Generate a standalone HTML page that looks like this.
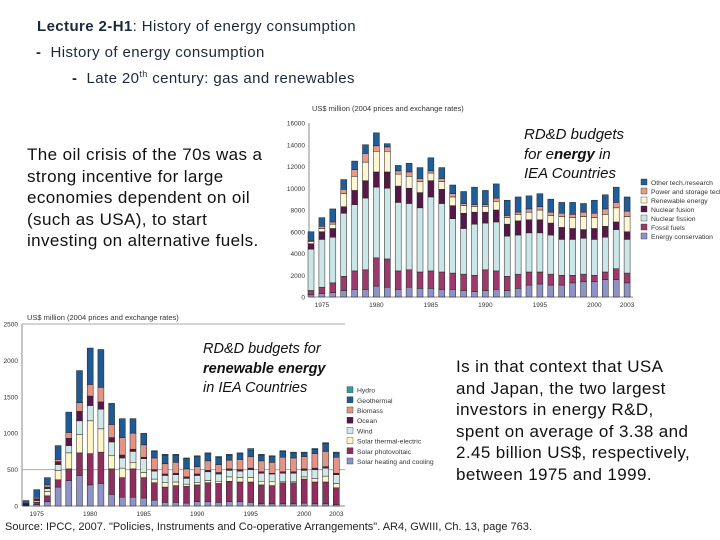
<!DOCTYPE html>
<html><head><meta charset="utf-8">
<style>
body{margin:0;width:720px;height:540px;background:#fff;position:relative;overflow:hidden;font-family:"Liberation Sans",Arial,sans-serif;color:#000}
.t{position:absolute;white-space:nowrap}
.hd{color:#1b2a3a;font-size:15px;letter-spacing:0.4px}
.p{font-size:17px;line-height:21.5px;color:#111;letter-spacing:0.4px}
.it{font-style:italic;font-size:15px;line-height:19.5px;color:#111}
svg{position:absolute;left:0;top:0}
svg text{font-family:"Liberation Sans",Arial,sans-serif}
</style></head><body>
<div class="t hd" style="left:37px;top:18px"><b>Lecture 2-H1</b>: History of energy consumption</div>
<div class="t hd" style="left:36px;top:44px"><b>-</b>&nbsp; History of energy consumption</div>
<div class="t hd" style="left:72px;top:69px"><b>-</b>&nbsp; Late 20<sup style="font-size:9px">th</sup> century: gas and renewables</div>

<svg id="chart" width="720" height="540"></svg>

<div class="t p" style="left:27px;top:144px">The oil crisis of the 70s was a<br>strong incentive for large<br>economies dependent on oil<br>(such as USA), to start<br>investing on alternative fuels.</div>
<div class="t it" style="left:524px;top:125px">RD&amp;D budgets<br>for e<b>nergy</b> in<br>IEA Countries</div>
<div class="t it" style="left:203px;top:340px;font-size:14.5px">RD&amp;D budgets for<br><b>renewable energy</b><br>in IEA Countries</div>
<div class="t p" style="left:456px;top:356px">Is in that context that USA<br>and Japan, the two largest<br>investors in energy R&amp;D,<br>spent on average of 3.38 and<br>2.45 billion US$, respectively,<br>between 1975 and 1999.</div>
<div class="t" style="left:5px;top:521px;font-size:11px;color:#222">Source: IPCC, 2007. "Policies, Instruments and Co-operative Arrangements". AR4, GWIII, Ch. 13, page 763.</div>

<script>
const years=[1974,1975,1976,1977,1978,1979,1980,1981,1982,1983,1984,1985,1986,1987,1988,1989,1990,1991,1992,1993,1994,1995,1996,1997,1998,1999,2000,2001,2002,2003];
// Top chart (US$ million / 1000)
const conservation=[.2,.3,.4,.6,.7,.7,1.0,.9,.7,.9,.8,.8,.7,.7,.6,.5,.6,.7,.6,.8,1.1,1.2,1.1,1.1,1.3,1.4,1.4,1.6,1.6,1.3];
const fossil=[.4,.6,.9,1.3,1.7,1.8,2.6,2.6,1.7,1.6,1.5,1.6,1.6,1.5,1.5,1.5,1.9,1.7,1.3,1.3,1.2,1.1,1.0,.9,.7,.7,.6,.7,1.0,.9];
const fission=[3.8,4.4,4.2,5.8,6.1,6.6,6.5,6.5,6.3,6.1,5.9,6.8,6.3,5.0,4.2,4.7,4.3,4.5,3.7,3.6,3.6,3.6,3.6,3.3,3.3,3.3,3.3,3.2,3.6,3.1];
const fusion=[.5,.7,.8,.6,1.3,1.6,1.4,1.5,1.5,1.4,1.4,1.5,1.3,1.2,1.4,1.1,1.0,1.1,1.1,1.3,1.2,1.2,1.1,1.1,1.0,.8,1.0,1.0,.7,.7];
const renewable=[.2,.3,.4,1.2,1.3,1.7,1.9,1.9,1.1,1.1,1.0,.7,.7,.8,.7,.5,.5,.8,.6,.6,.7,.9,.7,1.0,1.0,1.2,1.0,1.1,1.3,1.4];
const powerStorage=[.1,.2,.2,.4,.6,.8,.5,.4,.3,.4,.3,.2,.3,.3,.2,.2,.2,.3,.2,.2,.3,.3,.3,.3,.3,.4,.4,.5,.5,.5];
const otherTech=[.8,.8,1.2,.9,.8,.8,1.2,.3,.5,.8,1.0,1.2,1.0,.8,1.1,1.6,1.3,1.3,1.4,1.4,1.2,1.2,1.2,1.0,1.1,.8,1.2,1.3,1.4,1.3];
const topSeriesNames=["Energy conservation","Fossil fuels","Nuclear fission","Nuclear fusion","Renewable energy","Power and storage tech.","Other tech./research"];
const topTicks=[0,2000,4000,6000,8000,10000,12000,14000,16000];
const topXLabels=[1975,1980,1985,1990,1995,2000,2003];
// Bottom chart (US$ million)
const solarHeating=[5,20,60,260,350,420,290,310,160,120,120,110,80,50,50,40,60,60,50,60,60,50,30,30,30,30,40,30,30,20];
const photovoltaic=[10,30,80,100,160,310,430,430,350,270,390,280,240,210,230,230,230,260,260,280,270,280,260,250,290,290,330,300,300,230];
const thermalElectric=[5,20,60,130,220,250,450,320,180,130,90,70,50,60,50,30,30,30,30,60,60,60,50,60,20,20,30,50,80,60];
const wind=[0,10,40,80,100,190,210,270,190,140,150,190,110,100,100,80,100,120,100,90,90,110,110,100,110,110,90,120,110,120];
const ocean=[10,20,20,40,100,130,130,100,60,40,30,20,20,20,20,20,20,20,20,20,20,20,20,10,20,20,20,20,20,20];
const biomass=[5,20,30,30,80,120,160,200,180,240,220,170,160,140,150,110,100,130,110,120,140,160,150,150,200,190,170,200,210,220];
const geothermal=[40,105,100,190,280,440,500,520,290,260,200,160,90,120,100,140,140,100,100,70,80,90,80,80,80,70,50,60,110,60];
const hydro=[0,0,0,0,0,0,0,0,0,0,0,0,10,10,10,10,10,10,10,10,10,20,10,10,10,10,10,10,10,10];
const botSeriesNames=["Solar heating and cooling","Solar photovoltaic","Solar thermal-electric","Wind","Ocean","Biomass","Geothermal","Hydro"];
const botTicks=[0,500,1000,1500,2000,2500];
const botXLabels=[1975,1980,1985,1990,1995,2000,2003];

const NS="http://www.w3.org/2000/svg";
const svg=document.getElementById('chart');
function mk(tag,attrs,parent){const e=document.createElementNS(NS,tag);for(const k in attrs)e.setAttribute(k,attrs[k]);(parent||svg).appendChild(e);return e;}

function drawChart(o){
  const g=mk('g',{});
  
  
  const bg=mk('rect',{x:o.bx,y:o.by,width:o.bw,height:o.bh,fill:'#fff'},g);
  
  
  const yS=v=>o.y0-(v/o.ymax)*(o.y0-o.y1);
  const xS=yr=>o.xa+(yr-years[0])*o.step;
  mk('line',{x1:o.px0,y1:o.y1,x2:o.px0,y2:o.y0,stroke:'#888','stroke-width':1},g);
  mk('line',{x1:o.px0,y1:o.y0,x2:o.px1,y2:o.y0,stroke:'#888','stroke-width':1},g);
  o.ticks.forEach(t=>{
    if(o.grid.includes(t)){const gl=mk('line',{x1:o.px0,y1:yS(t),x2:o.px1,y2:yS(t),stroke:'#aaa','stroke-width':1},g);
      }
    const tl=mk('text',{x:o.px0-4,y:yS(t)+2.5,'font-size':6.5,'text-anchor':'end',fill:'#333'},g);
    tl.textContent=t;
    
    
  });
  o.xlabels.forEach(yr=>{
    const tl=mk('text',{x:xS(yr),y:o.y0+10,'font-size':6.5,'text-anchor':'middle',fill:'#333'},g);
    tl.textContent=yr;
    
    
  });
  const tt=mk('text',{x:o.tx,y:o.ty,'font-size':7.5,fill:'#333'},g);
  tt.textContent='US$ million (2004 prices and exchange rates)';
  
  
  years.forEach((yr,i)=>{
    let acc=0;
    o.series.forEach((s,j)=>{
      const v=s[i]*o.mult;
      if(v<=0)return;
      const r=mk('rect',{x:xS(yr)-o.bwid/2,y:yS(acc+v),width:o.bwid,height:yS(acc)-yS(acc+v),fill:o.colors[j],stroke:'#222','stroke-width':0.5},g);
      
      
      acc+=v;
    });
  });
  o.names.forEach((n,j)=>{
    const y=o.ly-j*o.lstep;
    const sw=mk('rect',{x:o.lx,y:y-5,width:6,height:6,fill:o.colors[j],stroke:'#333','stroke-width':0.4},g);
    
    
    const lt=mk('text',{x:o.lx+10,y:y+1,'font-size':6.8,fill:'#333'},g);
    lt.textContent=n;
    
    
  });
}
drawChart({name:'energy-rdd-chart',bx:282,by:100,bw:438,bh:215,y0:297,y1:123,ymax:16000,mult:1000,xa:311,step:10.9,px0:309,px1:633,
  ticks:topTicks,grid:[],xlabels:topXLabels,tx:312,ty:111,bwid:6,
  series:[conservation,fossil,fission,fusion,renewable,powerStorage,otherTech],names:topSeriesNames,
  colors:['#8e92c4','#9c3a6c','#cbe6e6','#561848','#fff6d2','#e69a8c','#1f5e98'],lx:641,ly:238,lstep:9});
drawChart({name:'renewable-rdd-chart',bx:0,by:322,bw:345,bh:198,y0:506,y1:324,ymax:2500,mult:1,xa:26,step:10.7,px0:22,px1:345,
  ticks:botTicks,grid:[500,2500],xlabels:botXLabels,tx:27,ty:320,bwid:6,
  series:[solarHeating,photovoltaic,thermalElectric,wind,ocean,biomass,geothermal,hydro],names:botSeriesNames,
  colors:['#8e92c4','#8f2f5f','#fff6c8','#cfe8e8','#561848','#e49487','#1f5a94','#2aa0a0'],lx:347,ly:463,lstep:10.2});
</script>
</body></html>
